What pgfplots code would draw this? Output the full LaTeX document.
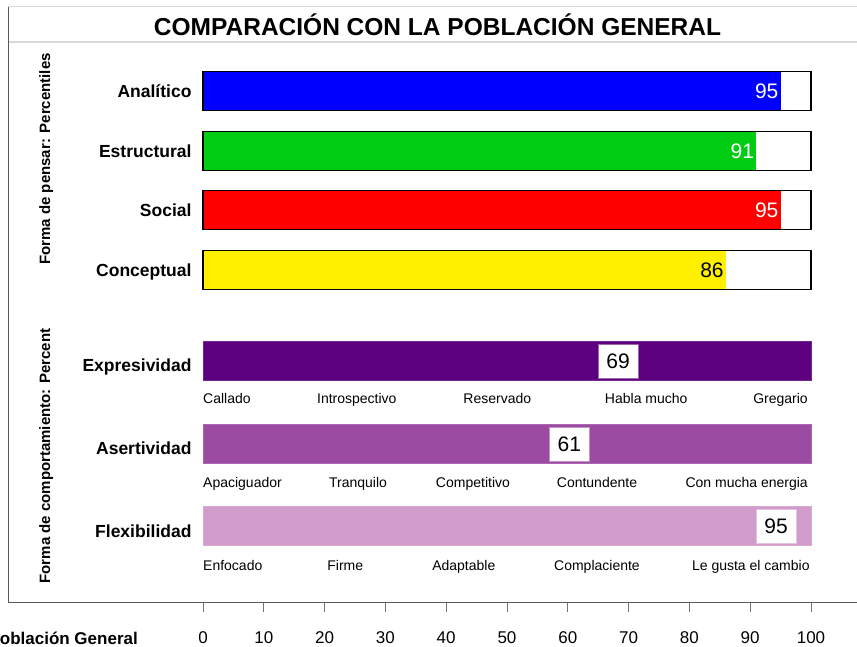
\documentclass[border=0pt]{standalone}
\usepackage{fontspec}
\setmainfont{Liberation Sans}
\usepackage{pgfplots}
\pgfplotsset{compat=1.18}

\definecolor{cblue}{HTML}{0000FF}
\definecolor{cgreen}{HTML}{00CC14}
\definecolor{cred}{HTML}{FF0000}
\definecolor{cyellow}{HTML}{FFF000}
\definecolor{cexp}{HTML}{5C0080}
\definecolor{casr}{HTML}{9B4BA2}
\definecolor{cflx}{HTML}{D19BCB}

\newcommand{\fs}[1]{\fontsize{#1}{#1}\selectfont}

\begin{document}
\begin{tikzpicture}
\begin{axis}[
    scale only axis,
    width=608pt, height=560pt,
    xmin=0, xmax=100,
    ymin=42, ymax=602,
    y dir=reverse,
    clip=false,
    axis line style={draw=none},
    tick pos=left,
    tick align=outside,
    major tick length=10pt,
    xtick={0,10,...,100},
    xtick style={draw=black!55, line width=0.9pt},
    xticklabel style={font=\fs{17}, yshift=-16pt},
    ytick={91,151,210,270,365,448,531},
    yticklabels={Analítico,Estructural,Social,Conceptual,Expresividad,Asertividad,Flexibilidad},
    ytick style={draw=none},
    yticklabel style={font=\bfseries\fs{17.5}, text height=12.5pt, text depth=0pt, xshift=2pt},
    /pgf/number format/assume math mode=true,
    mybar/.style={xbar, bar width=39, bar shift=0pt, point meta=x},
    valnode/.style={nodes near coords, nodes near coords align={anchor=east},
        every node near coord/.append style={font=\fs{21}, inner sep=2pt, #1}},
    boxnode/.style={draw=none, mark=none, point meta=x, nodes near coords,
        nodes near coords align={anchor=center},
        every node near coord/.append style={font=\fs{21}, fill=white, draw=#1,
            minimum width=40pt, minimum height=34pt, inner sep=0pt, xshift=-4.5pt}},
]
% Forma de pensar: fondo blanco
\addplot[mybar, fill=white, draw=none] coordinates {(100,91) (100,151) (100,210) (100,270)};
\addplot[mybar, fill=cblue, draw=none, valnode={text=white}] coordinates {(95,91)};
\addplot[mybar, fill=cgreen, draw=none, valnode={text=white}] coordinates {(91,151)};
\addplot[mybar, fill=cred, draw=none, valnode={text=white}] coordinates {(95,210)};
\addplot[mybar, fill=cyellow, draw=none, valnode={text=black}] coordinates {(86,270)};
\addplot[mybar, fill=none, draw=black, line width=1.3pt] coordinates {(100,91) (100,151) (100,210) (100,270)};

% Forma de comportamiento
\addplot[mybar, fill=cexp, draw=cexp!85!white, line width=0.6pt] coordinates {(100,361)};
\addplot[mybar, fill=casr, draw=casr!85!white, line width=0.6pt] coordinates {(100,444)};
\addplot[mybar, fill=cflx, draw=cflx!85!white, line width=0.6pt] coordinates {(100,526)};
\addplot[boxnode=cexp!60] coordinates {(69,361)};
\addplot[boxnode=casr!60] coordinates {(61,444)};
\addplot[boxnode=cflx!60] coordinates {(95,526)};

% etiquetas de escala
\begin{scope}[every node/.style={font=\fs{14}, inner sep=0pt, anchor=base}]
\node[anchor=base west] at (axis cs:0,403) {Callado};
\node at (axis cs:25.3,403) {Introspectivo};
\node at (axis cs:48.4,403) {Reservado};
\node at (axis cs:72.9,403) {Habla mucho};
\node[anchor=base east] at (axis cs:99.5,403) {Gregario};
\node[anchor=base west] at (axis cs:0,487) {Apaciguador};
\node at (axis cs:25.5,487) {Tranquilo};
\node at (axis cs:44.4,487) {Competitivo};
\node at (axis cs:64.8,487) {Contundente};
\node[anchor=base east] at (axis cs:99.5,487) {Con mucha energia};
\node[anchor=base west] at (axis cs:0,570) {Enfocado};
\node at (axis cs:23.4,570) {Firme};
\node at (axis cs:42.9,570) {Adaptable};
\node at (axis cs:64.8,570) {Complaciente};
\node[anchor=base east] at (axis cs:99.8,570) {Le gusta el cambio};
\end{scope}

% marco
\draw[black!15, line width=1pt] (axis cs:-32.07,7) -- (axis cs:107.57,7);
\draw[black!15, line width=1.5pt] (axis cs:-32.07,42) -- (axis cs:107.57,42);
\draw[black!65, line width=1pt] (axis cs:-32.07,7) -- (axis cs:-32.07,602) -- (axis cs:107.57,602);

% titulos
\node[font=\bfseries\fs{24.5}] at (axis cs:38.57,25) {COMPARACIÓN CON LA POBLACIÓN GENERAL};
\node[font=\bfseries\fs{15}, rotate=90] at (axis cs:-25.8,159) {Forma de pensar: Percentiles};
\node[font=\bfseries\fs{15}, rotate=90] at (axis cs:-25.8,456) {Forma de comportamiento: Percent};
\node[font=\bfseries\fs{17}, anchor=east, inner sep=0pt] at (axis cs:-10.69,638) {Población General};

\coordinate (bl) at (axis cs:-33.388,647);
\coordinate (tr) at (axis cs:107.566,0);
\end{axis}
\pgfresetboundingbox
\useasboundingbox (bl) rectangle (tr);
\end{tikzpicture}
\end{document}
